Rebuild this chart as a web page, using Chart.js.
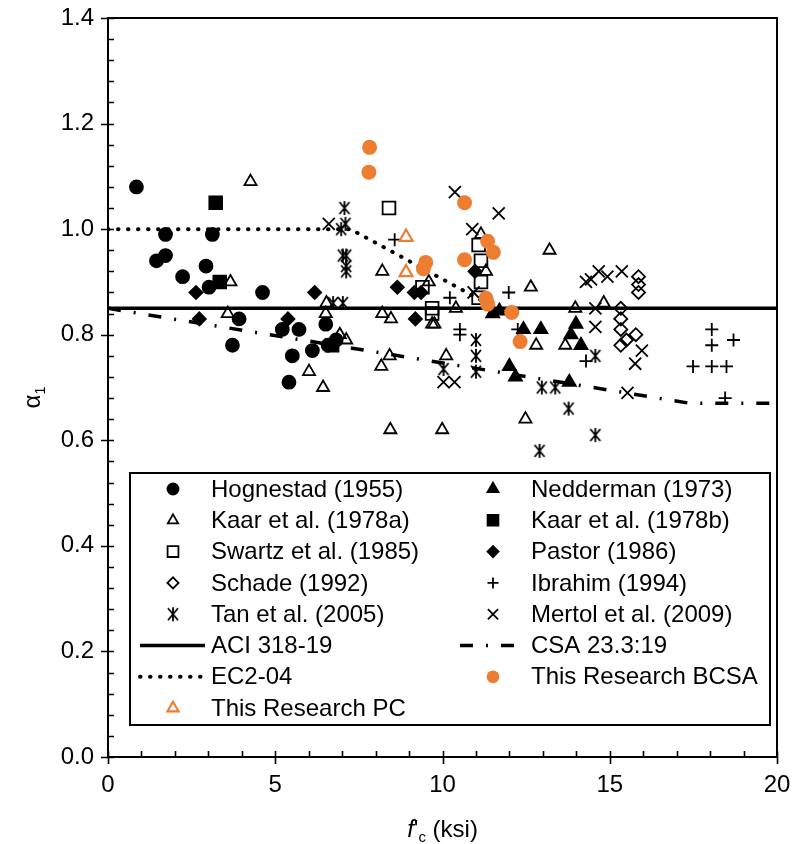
<!DOCTYPE html>
<html>
<head>
<meta charset="utf-8">
<title>alpha1 vs f'c</title>
<script src="https://cdn.jsdelivr.net/npm/chart.js@4.4.0/dist/chart.umd.min.js"></script>
<style>
  html, body { margin: 0; padding: 0; background: #fff; }
  #wrap { width: 795px; height: 844px; }
</style>
</head>
<body>
<div id="wrap"><canvas id="myChart" width="795" height="844"></canvas></div>
<script>
// ---------------- data (f'c in ksi, alpha1) ----------------
const hognestadX = [0.85, 1.45, 1.72, 1.72, 2.23, 2.93, 3.12, 3.02, 4.62, 3.92, 3.72, 5.21, 5.71, 5.51, 5.41, 6.11, 6.51, 6.58, 6.82];
const hognestadY = [1.08, 0.94, 0.95, 0.99, 0.91, 0.93, 0.99, 0.89, 0.88, 0.83, 0.78, 0.81, 0.81, 0.76, 0.71, 0.77, 0.82, 0.78, 0.79];

const neddermanX = [11.5, 11.7, 12.0, 12.18, 12.42, 12.94, 13.99, 13.84, 14.14, 13.79];
const neddermanY = [0.84, 0.845, 0.74, 0.72, 0.81, 0.81, 0.82, 0.80, 0.78, 0.71];

const kaarAX = [4.26, 3.66, 3.58, 6.01, 6.43, 6.53, 6.51, 6.93, 7.12, 8.2, 8.2, 8.46, 8.42, 8.17, 8.44, 9.99, 10.11, 9.59, 9.69, 9.76, 10.4, 11.15, 11.3, 12.64, 12.8, 12.48, 13.2, 13.67, 13.97, 14.82];
const kaarAY = [1.09, 0.90, 0.84, 0.73, 0.70, 0.86, 0.84, 0.80, 0.79, 0.92, 0.84, 0.83, 0.76, 0.74, 0.62, 0.62, 0.76, 0.90, 0.82, 0.82, 0.85, 0.99, 0.92, 0.89, 0.78, 0.64, 0.96, 0.78, 0.85, 0.86];

const kaarBX = [3.22, 3.34, 6.7];
const kaarBY = [1.05, 0.90, 0.78];

const swartzX = [8.4, 11.08, 11.15, 11.15, 11.08, 9.69, 9.69, 9.4];
const swartzY = [1.04, 0.97, 0.94, 0.90, 0.87, 0.85, 0.84, 0.89];

const pastorX = [2.63, 2.73, 6.18, 5.38, 8.65, 9.16, 9.36, 9.19, 10.97];
const pastorY = [0.88, 0.83, 0.88, 0.83, 0.89, 0.88, 0.88, 0.83, 0.92];

const schadeX = [15.86, 15.86, 15.86, 15.33, 15.33, 15.33, 15.33, 15.5, 15.78];
const schadeY = [0.91, 0.895, 0.88, 0.85, 0.83, 0.81, 0.78, 0.79, 0.80];

const ibrahimX = [8.57, 10.22, 10.52, 10.52, 11.98, 12.25, 14.29, 18.05, 18.05, 18.7, 17.49, 18.05, 18.49, 18.45];
const ibrahimY = [0.98, 0.87, 0.81, 0.80, 0.88, 0.81, 0.75, 0.81, 0.78, 0.79, 0.74, 0.74, 0.74, 0.68];

const tanX = [7.07, 7.1, 6.97, 7.02, 7.12, 7.12, 7.12, 6.73, 7.02, 11.0, 11.0, 11.0, 10.03, 12.97, 13.37, 13.77, 14.57, 14.57, 12.9];
const tanY = [1.04, 1.01, 1.00, 0.95, 0.95, 0.93, 0.92, 0.86, 0.86, 0.79, 0.76, 0.73, 0.735, 0.70, 0.70, 0.66, 0.61, 0.76, 0.58];

const mertolX = [6.6, 10.37, 11.68, 10.89, 10.93, 10.03, 10.36, 14.67, 14.29, 14.44, 14.93, 15.36, 14.57, 14.57, 15.96, 15.76, 15.53];
const mertolY = [1.01, 1.07, 1.03, 1.00, 0.88, 0.71, 0.71, 0.92, 0.90, 0.905, 0.91, 0.92, 0.85, 0.815, 0.77, 0.745, 0.69];

const bcsaX = [7.82, 7.8, 10.66, 11.35, 11.52, 10.66, 9.5, 9.43, 11.3, 11.35, 12.07, 12.32];
const bcsaY = [1.155, 1.108, 1.05, 0.977, 0.956, 0.942, 0.937, 0.925, 0.869, 0.858, 0.842, 0.787];

const pcX = [8.91, 8.91];
const pcY = [0.985, 0.918];

// code provisions
const aciX = [0, 20];
const aciY = [0.85, 0.85];
const ec2X = [0, 7.25, 11.6];
const ec2Y = [1.0, 1.0, 0.85];
const csaX = [0, 17.4, 20];
const csaY = [0.85, 0.67, 0.67];

const ORANGE = '#ED7D31';
const FONT = '"Liberation Sans", Arial, sans-serif';

function pts(xs, ys) {
  return xs.map((x, i) => ({ x: x, y: ys[i] }));
}

// asterisk marker: an x with a vertical bar through it
function makeAsterisk() {
  const c = document.createElement('canvas');
  c.width = c.height = 16;
  const g = c.getContext('2d');
  g.strokeStyle = '#000';
  g.lineWidth = 1.8;
  g.beginPath();
  g.moveTo(3, 2); g.lineTo(13, 14);
  g.moveTo(13, 2); g.lineTo(3, 14);
  g.moveTo(8, 1); g.lineTo(8, 15);
  g.stroke();
  return c;
}
const asterisk = makeAsterisk();

function markers(label, xs, ys, style, radius, fill, stroke) {
  return {
    label: label,
    data: pts(xs, ys),
    pointStyle: style,
    pointRadius: radius,
    pointHoverRadius: radius,
    pointBackgroundColor: fill,
    pointBorderColor: stroke,
    pointBorderWidth: 1.8,
    showLine: false
  };
}

function line(label, xs, ys, width, dash, cap) {
  return {
    label: label,
    data: pts(xs, ys),
    showLine: true,
    pointRadius: 0,
    borderColor: '#000',
    borderWidth: width,
    borderDash: dash,
    borderCapStyle: cap || 'butt',
    fill: false,
    order: 20
  };
}

const NONE = 'rgba(0,0,0,0)';
const datasets = [
  markers('Hognestad (1955)', hognestadX, hognestadY, 'circle', 6.5, '#000', '#000'),
  markers('Nedderman (1973)', neddermanX, neddermanY, 'triangle', 7.5, '#000', '#000'),
  markers('Kaar et al. (1978a)', kaarAX, kaarAY, 'triangle', 7, NONE, '#000'),
  markers('Kaar et al. (1978b)', kaarBX, kaarBY, 'rect', 9, '#000', '#000'),
  markers('Swartz et al. (1985)', swartzX, swartzY, 'rect', 9, NONE, '#000'),
  markers('Pastor (1986)', pastorX, pastorY, 'rectRot', 6.5, '#000', '#000'),
  markers('Schade (1992)', schadeX, schadeY, 'rectRot', 6.5, NONE, '#000'),
  markers('Ibrahim (1994)', ibrahimX, ibrahimY, 'cross', 6.5, NONE, '#000'),
  markers('Tan et al. (2005)', tanX, tanY, asterisk, 7, NONE, '#000'),
  markers('Mertol et al. (2009)', mertolX, mertolY, 'crossRot', 8.5, NONE, '#000'),
  line('ACI 318-19', aciX, aciY, 3.5, []),
  line('CSA 23.3:19', csaX, csaY, 3.5, [13, 13, 2, 13]),
  line('EC2-04', ec2X, ec2Y, 4, [0.5, 9.5], 'round'),
  Object.assign(markers('This Research BCSA', bcsaX, bcsaY, 'circle', 7.5, ORANGE, ORANGE), { pointBorderWidth: 0, order: -2 }),
  Object.assign(markers('This Research PC', pcX, pcY, 'triangle', 7.5, NONE, ORANGE), { pointBorderWidth: 2.2, order: -1 })
];

// frame, tick marks, axis titles and the boxed legend
const decorations = {
  id: 'decorations',
  afterDraw(chart) {
    const { ctx, chartArea: a, scales: { x, y } } = chart;
    ctx.save();
    ctx.strokeStyle = '#000';
    ctx.fillStyle = '#000';

    ctx.lineWidth = 2;
    ctx.strokeRect(a.left, a.top, a.right - a.left, a.bottom - a.top);

    ctx.lineWidth = 1.6;
    ctx.beginPath();
    for (let i = 0; i <= 35; i++) {
      const py = Math.round(y.getPixelForValue(i * 0.04)) + 0.5;
      ctx.moveTo(a.left - (i % 5 === 0 ? 7 : 0), py);
      ctx.lineTo(a.left + 6, py);
    }
    for (let i = 0; i <= 20; i++) {
      const px = Math.round(x.getPixelForValue(i)) + 0.5;
      ctx.moveTo(px, a.bottom + (i % 5 === 0 ? 7 : 0));
      ctx.lineTo(px, a.bottom - 6);
    }
    ctx.stroke();

    // y title: alpha with subscript 1
    ctx.save();
    ctx.translate(40, (a.top + a.bottom) / 2 + 10);
    ctx.rotate(-Math.PI / 2);
    ctx.textBaseline = 'alphabetic';
    ctx.textAlign = 'left';
    ctx.font = '24px ' + FONT;
    const wa = ctx.measureText('α').width;
    ctx.font = '15px ' + FONT;
    const w1 = ctx.measureText('1').width;
    const sx = -(wa + w1) / 2;
    ctx.font = '24px ' + FONT;
    ctx.fillText('α', sx, 0);
    ctx.font = '15px ' + FONT;
    ctx.fillText('1', sx + wa, 5);
    ctx.restore();

    // x title: f'c (ksi)
    const parts = [
      { t: 'f', f: 'italic 24px ' + FONT, dy: 0 },
      { t: '\'', f: '24px ' + FONT, dy: 0 },
      { t: 'c', f: '15px ' + FONT, dy: 5 },
      { t: ' (ksi)', f: '24px ' + FONT, dy: 0 }
    ];
    let total = 0;
    parts.forEach(p => { ctx.font = p.f; p.w = ctx.measureText(p.t).width; total += p.w; });
    let tx = (a.left + a.right) / 2 - total / 2;
    ctx.textAlign = 'left';
    ctx.textBaseline = 'alphabetic';
    parts.forEach(p => { ctx.font = p.f; ctx.fillText(p.t, tx, 837 + p.dy); tx += p.w; });

    // legend box
    const box = { l: a.left + 22, r: a.right - 7, t: a.top + 455, b: a.top + 707 };
    ctx.fillStyle = '#fff';
    ctx.fillRect(box.l, box.t, box.r - box.l, box.b - box.t);
    ctx.lineWidth = 2;
    ctx.strokeRect(box.l, box.t, box.r - box.l, box.b - box.t);

    const rowH = 31.3;
    const cols = [
      { marker: box.l + 43, line0: box.l + 10, line1: box.l + 75, text: box.l + 81 },
      { marker: box.l + 363, line0: box.l + 330, line1: box.l + 384, text: box.l + 401 }
    ];
    chart.data.datasets.forEach((ds, i) => {
      const c = cols[i % 2];
      const cy = box.t + 16 + Math.floor(i / 2) * rowH;
      if (ds.showLine) {
        ctx.save();
        ctx.strokeStyle = ds.borderColor;
        ctx.lineWidth = ds.borderWidth;
        ctx.lineCap = ds.borderCapStyle;
        ctx.setLineDash(ds.borderDash);
        ctx.beginPath();
        ctx.moveTo(c.line0, cy);
        ctx.lineTo(c.line1, cy);
        ctx.stroke();
        ctx.restore();
      } else {
        ctx.save();
        ctx.fillStyle = ds.pointBackgroundColor;
        ctx.strokeStyle = ds.pointBorderColor;
        ctx.lineWidth = ds.pointBorderWidth;
        Chart.helpers.drawPoint(ctx, {
          pointStyle: ds.pointStyle,
          radius: ds.pointRadius * 0.85,
          rotation: 0,
          borderWidth: ds.pointBorderWidth
        }, c.marker, cy);
        ctx.restore();
      }
      ctx.fillStyle = '#000';
      ctx.font = '24px ' + FONT;
      ctx.textAlign = 'left';
      ctx.textBaseline = 'middle';
      ctx.fillText(ds.label, c.text, cy + 1);
    });

    ctx.restore();
  }
};

const ctx = document.getElementById('myChart');
const myChart = new Chart(ctx, {
  type: 'scatter',
  data: { datasets: datasets },
  options: {
    responsive: false,
    animation: false,
    layout: { padding: { top: 18, right: 18, left: 0, bottom: 0 } },
    plugins: {
      legend: { display: false },
      tooltip: { enabled: false }
    },
    scales: {
      x: {
        type: 'linear',
        min: 0,
        max: 20,
        ticks: { stepSize: 5, padding: 14, color: '#000', font: { family: FONT, size: 24 } },
        grid: { display: false, drawTicks: false },
        border: { display: false },
        afterFit(scale) {
          scale.height = 87;
          scale.paddingLeft = 0;
          scale.paddingRight = 0;
        }
      },
      y: {
        type: 'linear',
        min: 0,
        max: 1.4,
        ticks: {
          stepSize: 0.2,
          padding: 14,
          color: '#000',
          font: { family: FONT, size: 24 },
          callback: v => v.toFixed(1)
        },
        grid: { display: false, drawTicks: false },
        border: { display: false },
        afterFit(scale) {
          scale.width = 108;
          scale.paddingTop = 0;
          scale.paddingBottom = 0;
        }
      }
    }
  },
  plugins: [decorations]
});
</script>
</body>
</html>
